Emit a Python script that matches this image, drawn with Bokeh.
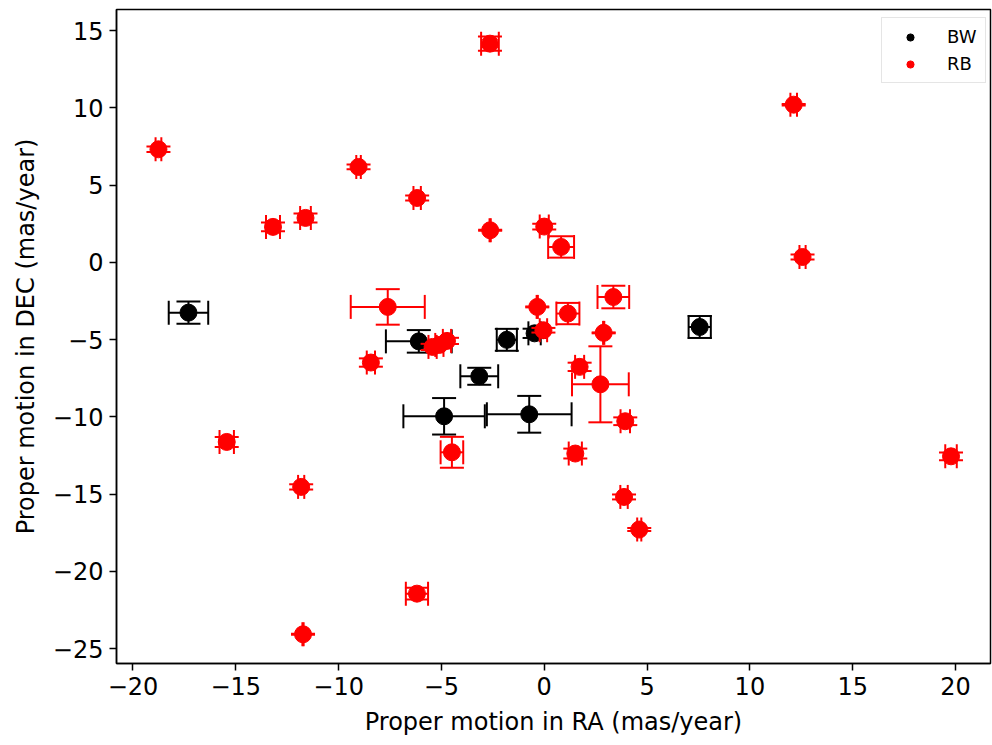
import math
from bokeh.plotting import figure
from bokeh.models import (ColumnDataSource, Range1d, FixedTicker, CustomJSTickFormatter,
                          Legend, LegendItem)
from bokeh.embed import file_html
from bokeh.resources import INLINE

# ---- data ----
bw_ra   = [-17.30, -6.10, -1.82, -0.47, -3.16, -4.87, -0.73, 7.56]
bw_dec  = [-3.26, -5.12, -5.02, -4.60, -7.38, -9.97, -9.84, -4.19]
bw_era  = [0.96, 1.60, 0.49, 0.30, 0.92, 1.98, 2.06, 0.54]
bw_edec = [0.72, 0.73, 0.71, 0.30, 0.55, 1.18, 1.19, 0.71]

rb_ra   = [-18.76, -13.19, -11.61, -9.03, -6.18, -2.64, -2.63, 0.00, -7.61, -0.34,
           12.13, 12.56, 0.82, 3.36, 1.15, 2.89, -0.04, -8.43, -5.43, -5.10,
           -4.73, -15.44, -11.82, -11.73, -6.19, -4.49, 2.73, 1.72, 3.94, 1.51,
           19.78, 3.88, 4.62]
rb_dec  = [7.31, 2.29, 2.87, 6.17, 4.16, 14.15, 2.07, 2.31, -2.89, -2.89,
           10.20, 0.34, 0.99, -2.25, -3.32, -4.57, -4.40, -6.49, -5.48, -5.35,
           -5.09, -11.63, -14.54, -24.08, -21.45, -12.30, -7.90, -6.77, -10.29, -12.38,
           -12.56, -15.19, -17.30]
rb_era  = [0.14, 0.34, 0.26, 0.11, 0.18, 0.43, 0.03, 0.22, 1.80, 0.03,
           0.16, 0.15, 0.63, 0.77, 0.56, 0.03, 0.18, 0.20, 0.20, 0.20,
           0.20, 0.35, 0.15, 0.03, 0.54, 0.55, 1.38, 0.22, 0.23, 0.32,
           0.28, 0.18, 0.10]
rb_edec = [0.18, 0.29, 0.29, 0.15, 0.16, 0.46, 0.03, 0.19, 1.15, 0.03,
           0.05, 0.16, 0.69, 0.73, 0.69, 0.03, 0.15, 0.27, 0.20, 0.20,
           0.20, 0.32, 0.17, 0.03, 0.38, 1.00, 2.46, 0.27, 0.25, 0.32,
           0.25, 0.16, 0.10]

series_names = ["BW", "RB"]
x_ticks = [-20, -15, -10, -5, 0, 5, 10, 15, 20]
y_ticks = [-25, -20, -15, -10, -5, 0, 5, 10, 15]

FONT = "DejaVu Sans"

p = figure(width=992, height=745, output_backend="svg", toolbar_location=None,
           x_range=Range1d(-20.8, 21.7), y_range=Range1d(-25.97, 16.36),
           min_border_left=116, min_border_right=2, min_border_top=9, min_border_bottom=82)
p.xgrid.grid_line_color = None
p.ygrid.grid_line_color = None
p.outline_line_color = "black"
p.outline_line_width = 1.5
p.background_fill_color = "white"
p.border_fill_color = "white"

fmt = CustomJSTickFormatter(code="return tick.toString().replace('-', '\u2212');")
for ax, ticks, label in ((p.xaxis, x_ticks, "Proper motion in RA (mas/year)"),
                         (p.yaxis, y_ticks, "Proper motion in DEC (mas/year)")):
    ax.ticker = FixedTicker(ticks=ticks)
    ax.formatter = fmt
    ax.axis_label = label
    ax.axis_label_text_font = FONT
    ax.axis_label_text_font_size = "24px"
    ax.axis_label_text_font_style = "normal"
    ax.major_label_text_font = FONT
    ax.major_label_text_font_size = "24px"
    ax.major_label_text_color = "black"
    ax.axis_label_text_color = "black"
    ax.major_tick_out = 7
    ax.major_tick_in = 0
    ax.minor_tick_out = 0
    ax.minor_tick_in = 0
    ax.major_tick_line_width = 1.5
    ax.axis_line_width = 1.5
    ax.major_label_standoff = 6
    ax.axis_label_standoff = 10


def series(ra, dec, era, edec, color):
    src = ColumnDataSource(dict(
        x=ra, y=dec,
        xl=[a - e for a, e in zip(ra, era)], xu=[a + e for a, e in zip(ra, era)],
        yl=[b - e for b, e in zip(dec, edec)], yu=[b + e for b, e in zip(dec, edec)],
    ))
    p.segment(x0="xl", y0="y", x1="xu", y1="y", source=src, line_color=color, line_width=2)
    p.segment(x0="x", y0="yl", x1="x", y1="yu", source=src, line_color=color, line_width=2)
    for cx, cy, ang in (("xl", "y", math.pi / 2), ("xu", "y", math.pi / 2),
                        ("x", "yl", 0.0), ("x", "yu", 0.0)):
        p.scatter(x=cx, y=cy, source=src, marker="dash", size=24, angle=ang,
                  line_color=color, line_width=2)
    p.scatter(x="x", y="y", source=src, size=17, fill_color=color, line_color=color)


series(bw_ra, bw_dec, bw_era, bw_edec, "black")
series(rb_ra, rb_dec, rb_era, rb_edec, "red")

# legend proxies: small markers sitting inside one same-coloured marker of each series
lg_bw = p.scatter(x=bw_ra[:1], y=bw_dec[:1], size=10, fill_color="black", line_color="black")
lg_rb = p.scatter(x=rb_ra[:1], y=rb_dec[:1], size=10, fill_color="red", line_color="red")

legend = Legend(items=[LegendItem(label=series_names[0], renderers=[lg_bw]),
                       LegendItem(label=series_names[1], renderers=[lg_rb])],
                location=(765, 580),
                label_text_font=FONT, label_text_font_size="18px", label_text_color="black",
                glyph_width=40, glyph_height=18, label_height=18,
                label_standoff=17, spacing=6, padding=8, margin=0,
                border_line_color="#cccccc", border_line_width=1.5,
                background_fill_color="white", background_fill_alpha=0.8)
p.add_layout(legend, "center")

open("out.html", "w").write(file_html(p, INLINE))
